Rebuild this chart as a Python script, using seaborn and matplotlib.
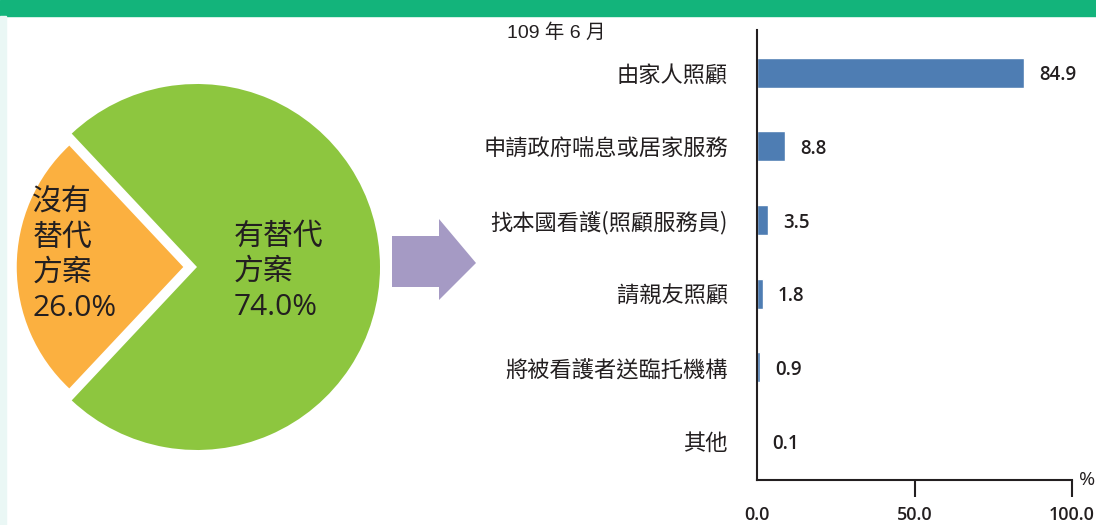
import matplotlib
matplotlib.use("Agg")
import matplotlib.pyplot as plt
from matplotlib.patches import Rectangle, Polygon
import seaborn as sns
import pandas as pd

# ---- data ----
pie_labels = ["有替代\n方案", "沒有\n替代\n方案"]
pie_values = [74.0, 26.0]
pie_colors = ["#8DC63F", "#FBB040"]

categories = [
    "由家人照顧",
    "申請政府喘息或居家服務",
    "找本國看護(照顧服務員)",
    "請親友照顧",
    "將被看護者送臨托機構",
    "其他",
]
shares = [84.9, 8.8, 3.5, 1.8, 0.9, 0.1]
x_ticks = [0, 50, 100]
x_ticklabels = ["0.0", "50.0", "100.0"]
period = "109 年 6 月"

W, H = 1096, 525
TXT = "#231F20"
BAR = "#4E7DB3"
CJK = ["Noto Sans CJK TC", "DejaVu Sans"]
NUM = ["Open Sans", "Noto Sans CJK TC"]

sns.set_style("white")
plt.rcParams["font.family"] = CJK

fig = plt.figure(figsize=(W / 100, H / 100), dpi=100)


def px(x, y):
    """pixel (from top-left) -> figure fraction"""
    return x / W, 1 - y / H


# header band and left strip
fig.patches.append(Rectangle((0, 1 - 16 / H), 1, 16 / H, transform=fig.transFigure,
                             color="#13B47B", zorder=0))
fig.patches.append(Rectangle((0, 0), 6 / W, 1 - 16 / H, transform=fig.transFigure,
                             color="#EAF7F5", zorder=0))

# ---- pie ----
pax = fig.add_axes([14 / W, 75 / H, 366 / W, 366 / H])
wedges, _ = pax.pie(
    pie_values,
    colors=pie_colors,
    startangle=226.8,
    counterclock=True,
    explode=[0, 0.075],
    wedgeprops={"linewidth": 0},
)
wedges[1].set_radius(0.91)
pax.set_xlim(-1, 1)
pax.set_ylim(-1, 1)
pax.set_aspect("equal")
pax.axis("off")

pax.text(0.2, -0.03, f"{pie_labels[0]}\n{pie_values[0]:.1f}%", fontsize=21.5,
         color=TXT, ha="left", va="center", linespacing=1.28,
         fontweight="medium", family=NUM)
pax.text(-0.9, 0.06, f"{pie_labels[1]}\n{pie_values[1]:.1f}%", fontsize=21.5,
         color=TXT, ha="left", va="center", linespacing=1.28,
         fontweight="medium", family=NUM)

# arrow
pts = [(392, 236), (439, 236), (439, 219), (476, 263), (439, 300), (439, 287), (392, 287)]
fig.patches.append(Polygon([px(*p) for p in pts], closed=True, transform=fig.transFigure,
                           facecolor="#A59AC4", edgecolor="none"))

# ---- bars ----
df = pd.DataFrame({"cat": categories, "share": shares})
bax = fig.add_axes([757 / W, 45 / H, 315 / W, 450 / H])
sns.barplot(data=df, x="share", y="cat", orient="h", color=BAR, saturation=1,
            width=0.41, ax=bax)
bax.set_xlim(0, 100)
bax.set_ylim(5.53, -0.58)
bax.set_xlabel("")
bax.set_ylabel("")

for i, v in enumerate(shares):
    bax.annotate(f"{v:.1f}", xy=(v, i), xytext=(11, -2), textcoords="offset points",
                 ha="left", va="center", fontsize=13.5, color=TXT,
                 fontweight="semibold", family=NUM)

bax.set_xticks(x_ticks)
bax.set_xticklabels(x_ticklabels, fontsize=13, color=TXT, fontweight="semibold",
                    family=NUM)
bax.tick_params(axis="x", direction="out", length=12.5, width=1.5, color=TXT, pad=6,
                bottom=True)
bax.xaxis.get_major_ticks()[0].tick1line.set_visible(False)
bax.tick_params(axis="y", length=0, pad=21, labelsize=16, labelcolor=TXT)

for side in ("top", "right"):
    bax.spines[side].set_visible(False)
for side in ("left", "bottom"):
    bax.spines[side].set_color(TXT)
    bax.spines[side].set_linewidth(1.5)

bax.text(1.022, 0.0, "%", transform=bax.transAxes, fontsize=14, color=TXT,
         ha="left", va="center", family=NUM)

fig.text(*px(507, 33), period, fontsize=14, color=TXT, ha="left", va="center",
         family=["Liberation Sans", "Noto Sans CJK TC"])

fig.savefig("out.png", dpi=100)
